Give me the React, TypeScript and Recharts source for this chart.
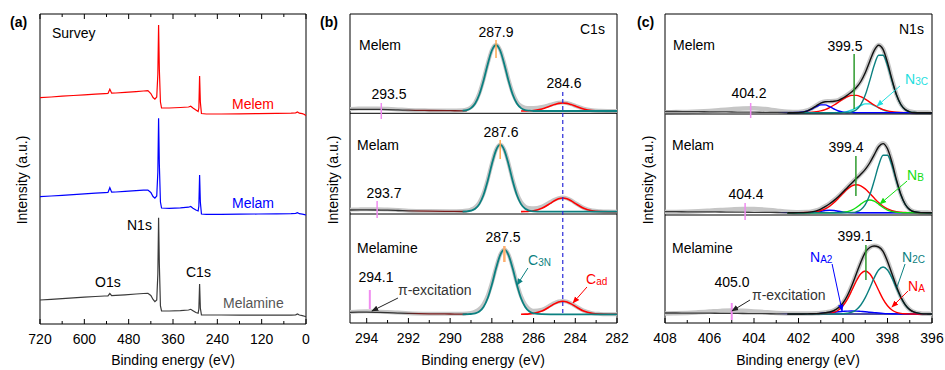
import { LineChart, Line, XAxis, YAxis, ReferenceLine, ReferenceArea } from 'recharts'

const FONT = '"Liberation Sans", Arial, Helvetica, sans-serif'
const TEAL = '#0b8080'
const RAW = '#c6c6c6'

// ---------- (a) survey ----------
const surveyEnergy = [720, 690, 660, 630, 600, 570, 545, 536, 531, 526, 515, 490, 460, 440, 428, 420, 414, 409, 404, 401, 399, 397, 394, 391, 370, 340, 318, 312, 306, 298, 292, 290, 288, 286, 283, 270, 230, 180, 130, 80, 40, 28, 23, 18, 10, 4, 0]
const surveyMelem = [226.3, 227.0, 227.8, 228.5, 229.2, 229.8, 230.4, 230.6, 234.8, 230.8, 231.0, 231.6, 232.4, 233.0, 233.4, 230.5, 226.5, 224.8, 227.0, 250.0, 299.0, 255.0, 222.0, 216.0, 216.0, 216.5, 217.0, 217.8, 216.0, 214.0, 212.5, 216.0, 248.0, 222.0, 210.5, 210.0, 210.0, 210.2, 210.4, 210.6, 210.8, 211.2, 212.0, 210.8, 210.3, 209.5, 208.3]
const surveyMelam = [127.3, 128.0, 128.7, 129.4, 130.1, 130.8, 131.4, 131.6, 136.3, 131.8, 132.0, 132.6, 133.3, 133.8, 134.0, 131.5, 127.5, 125.8, 128.0, 152.0, 205.7, 160.0, 122.0, 116.0, 115.7, 116.2, 116.8, 117.5, 115.8, 114.0, 113.0, 118.0, 149.0, 122.0, 110.0, 109.7, 109.7, 109.8, 110.0, 110.2, 110.3, 110.6, 111.3, 110.3, 109.8, 109.4, 109.0]
const surveyMelamine = [24.0, 24.7, 25.4, 26.1, 26.8, 27.5, 28.0, 28.2, 30.5, 28.4, 28.6, 29.2, 30.0, 30.5, 30.7, 28.5, 24.5, 22.3, 24.0, 50.0, 106.3, 60.0, 18.0, 13.0, 13.0, 13.4, 14.0, 14.7, 13.3, 11.5, 10.7, 15.0, 40.0, 16.0, 9.0, 9.0, 9.0, 8.9, 8.8, 8.8, 8.8, 9.2, 10.0, 9.0, 8.4, 7.8, 7.3]
const surveyTicks = [720, 660, 600, 540, 480, 420, 360, 300, 240, 180, 120, 60, 0]
const surveyLabels = [720, 600, 480, 360, 240, 120, 0]
const surveySideTicks = [18, 37, 56, 75, 94, 113, 132, 151, 170, 189, 208, 227, 246, 265, 284, 303]

// ---------- (b) C1s ----------
const c1sEnergy = [294.8, 294.4, 294, 293.5, 293, 292.5, 292, 291, 290, 289.4, 289.2, 289, 288.8, 288.6, 288.4, 288.2, 288, 287.8, 287.6, 287.4, 287.2, 287, 286.8, 286.6, 286.4, 286.2, 286, 285.6, 285.2, 285, 284.8, 284.6, 284.4, 284.2, 284, 283.6, 283.2, 282.8, 282.4, 282]
const C3N_START = 9 // 289.4 eV
const CAD_START = 23 // 286.6 eV

const c1sMelemRaw = [2.0, 2.4, 2.6, 2.6, 2.2, 1.6, 1.0, 0.6, 0.4, 0.8, 1.6, 3.8, 8.6, 17.8, 31.4, 47.4, 61.0, 66.3, 61.0, 47.5, 31.5, 18.0, 9.2, 5.0, 3.4, 3.0, 3.0, 4.0, 6.2, 7.4, 8.2, 8.4, 8.0, 6.8, 5.2, 2.3, 0.8, 0.3, 0.1, 0]
const c1sMelemBg = [1.6, 1.7, 1.7, 1.6, 1.4, 1.1, 0.8, 0.5, 0.3, 0.2, 0.1]
const c1sMelemC3N = [0.3, 0.9, 2.9, 7.5, 16.5, 30.2, 46.6, 60.5, 66, 60.5, 46.6, 30.2, 16.5, 7.5, 2.9, 0.9, 0.3, 0, 0, 0, 0, 0, 0, 0, 0, 0, 0, 0, 0, 0, 0]
const c1sMelemCad = [0.03, 0.09, 0.2, 0.5, 2.0, 4.9, 6.4, 7.6, 8, 7.6, 6.4, 4.9, 2.0, 0.5, 0.1, 0, 0]

const c1sMelamRaw = [2.0, 2.3, 2.5, 2.5, 2.1, 1.6, 1.0, 0.6, 0.5, 0.7, 1.2, 2.2, 4.4, 9.2, 18.2, 32.0, 48.2, 62.0, 67.3, 62.0, 48.5, 32.0, 18.6, 9.6, 5.2, 3.6, 3.4, 5.2, 9.6, 12.0, 13.6, 14.1, 13.4, 11.4, 8.7, 3.8, 1.2, 0.4, 0.1, 0]
const c1sMelamBg = [1.7, 1.8, 1.8, 1.7, 1.5, 1.2, 0.9, 0.5, 0.3, 0.2, 0.1]
const c1sMelamC3N = [0.1, 0.3, 1.0, 2.9, 7.6, 16.7, 30.7, 47.4, 61.4, 67, 61.4, 47.4, 30.7, 16.7, 7.6, 2.9, 1.0, 0.3, 0, 0, 0, 0, 0, 0, 0, 0, 0, 0, 0, 0, 0]
const c1sMelamCad = [0.05, 0.15, 0.4, 0.9, 3.4, 8.3, 11.0, 13.0, 13.7, 13.0, 11.0, 8.3, 3.4, 0.9, 0.15, 0, 0]

const c1sMelamineRaw = [2.4, 2.8, 3.0, 2.8, 2.3, 1.7, 1.1, 0.6, 0.5, 0.6, 0.8, 1.4, 2.8, 5.2, 10.0, 18.5, 31.4, 46.6, 59.6, 64.9, 59.8, 46.8, 31.0, 18.0, 9.6, 5.2, 3.6, 4.6, 9.0, 11.3, 12.8, 13.4, 12.7, 10.8, 8.3, 3.6, 1.2, 0.4, 0.1, 0]
const c1sMelamineBg = [2.0, 2.1, 2.1, 1.9, 1.6, 1.2, 0.9, 0.5, 0.3, 0.2, 0.1]
const c1sMelamineC3N = [0, 0.1, 0.3, 0.9, 2.8, 7.4, 16.1, 29.6, 45.7, 59.2, 64.6, 59.2, 45.7, 29.6, 16.1, 7.4, 2.8, 0.9, 0.1, 0, 0, 0, 0, 0, 0, 0, 0, 0, 0, 0, 0]
const c1sMelamineCad = [0.05, 0.15, 0.4, 0.9, 3.2, 7.9, 10.4, 12.3, 13, 12.3, 10.4, 7.9, 3.2, 0.9, 0.15, 0, 0]

const c1sTicks = [282, 283, 284, 285, 286, 287, 288, 289, 290, 291, 292, 293, 294]
const c1sLabels = [282, 284, 286, 288, 290, 292, 294]

// ---------- (c) N1s ----------
const n1sEnergy = [408, 407.5, 407, 406.5, 406, 405.5, 405, 404.5, 404, 403.5, 403, 402.5, 402, 401.6, 401.4, 401.2, 401, 400.8, 400.6, 400.4, 400.2, 400, 399.8, 399.6, 399.4, 399.2, 399, 398.8, 398.6, 398.4, 398.2, 398, 397.8, 397.6, 397.4, 397.2, 397, 396.8, 396.5, 396.2, 396]
const FIT_START = 11 // 402.5 eV

const n1sMelemRaw = [0.5, 0.6, 0.8, 1.2, 1.8, 2.6, 3.5, 4.2, 4.4, 3.6, 2.2, 1.0, 0.8, 2.2, 4.4, 7.2, 9.9, 11.2, 11.4, 11.7, 12.7, 15.0, 17.9, 21.2, 25.5, 31.5, 40.3, 51.5, 62.4, 67.8, 63.6, 50.5, 33.5, 18.5, 8.5, 3.4, 1.2, 0.5, 0.2, 0.1, 0]
const n1sMelemBg = [1.2, 1.2, 1.1, 1.0, 0.9, 0.8, 0.7, 0.6, 0.5, 0.4, 0.3, 0.2, 0.1, 0, 0, 0, 0, 0, 0, 0, 0, 0, 0, 0, 0, 0, 0, 0, 0, 0, 0, 0, 0, 0, 0, 0, 0, 0, 0, 0, 0]
const n1sMelemEnv = [0, 0.2, 1.9, 4.1, 6.9, 9.6, 10.9, 11.1, 11.4, 12.4, 14.7, 17.6, 20.9, 25.2, 31.2, 40.0, 51.2, 62.1, 67.5, 63.3, 50.2, 33.2, 18.2, 8.2, 3.1, 0.9, 0.2, 0, 0, 0]
const n1sMelemMain = [0, 0, 0, 0, 0, 0, 0, 0, 0, 0, 0.05, 0.2, 0.9, 3.0, 8.0, 17.6, 31.8, 47.2, 57.5, 57.5, 47.2, 31.8, 17.6, 8.0, 3.0, 0.9, 0.2, 0, 0, 0]
const n1sMelemRed = [0, 0.03, 0.2, 0.44, 0.9, 1.8, 3.1, 5.1, 7.7, 10.6, 13.6, 16.0, 17.3, 17.3, 16.0, 13.6, 10.6, 7.7, 5.1, 3.1, 1.8, 0.9, 0.44, 0.2, 0.08, 0.03, 0, 0, 0, 0]
const n1sMelemBlue = [0, 0.2, 1.7, 3.7, 6.0, 7.8, 7.8, 6.0, 3.7, 1.7, 0.6, 0.2, 0.04, 0, 0, 0, 0, 0, 0, 0, 0, 0, 0, 0, 0, 0, 0, 0, 0, 0]
const n1sMelemN3C = [0, 0, 0, 0, 0, 0, 0, 0, 0.03, 0.14, 0.45, 1.2, 2.7, 4.9, 7.2, 8.8, 8.8, 7.2, 4.9, 2.7, 1.2, 0.45, 0.14, 0.03, 0, 0, 0, 0, 0, 0]

const n1sMelamRaw = [0.6, 0.8, 1.0, 1.4, 2.0, 2.7, 3.3, 3.7, 3.6, 3.0, 2.0, 1.0, 0.5, 0.6, 1.2, 2.2, 4.0, 6.4, 9.2, 12.6, 16.5, 20.9, 25.6, 30.1, 34.4, 38.8, 43.6, 50.0, 58.1, 66.2, 69.4, 64.2, 50.7, 33.4, 18.5, 8.5, 3.3, 1.1, 0.3, 0.1, 0]
const n1sMelamBg = [1.0, 1.0, 0.9, 0.9, 0.8, 0.7, 0.6, 0.5, 0.4, 0.3, 0.2, 0.1, 0.05, 0, 0, 0, 0, 0, 0, 0, 0, 0, 0, 0, 0, 0, 0, 0, 0, 0, 0, 0, 0, 0, 0, 0, 0, 0, 0, 0, 0]
const n1sMelamEnv = [0, 0.05, 0.3, 0.8, 1.8, 3.6, 6.0, 8.9, 12.3, 16.2, 20.6, 25.3, 29.8, 34.1, 38.5, 43.3, 49.7, 57.8, 65.9, 69.1, 63.9, 50.4, 33.1, 18.2, 8.2, 3.1, 0.9, 0.1, 0, 0]
const n1sMelamMain = [0, 0, 0, 0, 0, 0, 0, 0, 0, 0, 0, 0.05, 0.2, 0.9, 3.0, 8.0, 17.6, 31.7, 47.2, 57.5, 57.5, 47.2, 31.7, 17.6, 8.0, 3.0, 0.9, 0.1, 0, 0]
const n1sMelamRed = [0, 0.03, 0.2, 0.5, 1.0, 2.1, 3.8, 6.4, 10.1, 14.6, 19.4, 23.8, 26.9, 28, 26.9, 23.8, 19.4, 14.6, 10.1, 6.4, 3.8, 2.1, 1.0, 0.5, 0.2, 0.1, 0.03, 0, 0, 0]
const n1sMelamNB = [0, 0, 0, 0, 0, 0, 0, 0, 0, 0.1, 0.4, 1.1, 2.6, 5.2, 8.6, 11.5, 12.7, 11.5, 8.6, 5.2, 2.6, 1.1, 0.4, 0.1, 0, 0, 0, 0, 0, 0]
const n1sMelamBlue = [0, 0, 0.1, 0.3, 0.8, 1.5, 2.2, 2.5, 2.2, 1.5, 0.8, 0.3, 0.1, 0, 0, 0, 0, 0, 0, 0, 0, 0, 0, 0, 0, 0, 0, 0, 0, 0]

const n1sMelamineRaw = [0.4, 0.7, 1.1, 1.7, 2.4, 3.1, 3.5, 3.2, 2.6, 1.8, 1.1, 0.6, 0.4, 0.4, 0.5, 0.7, 1.0, 1.5, 2.3, 3.8, 6.6, 11.2, 18.7, 28.6, 40.2, 51.6, 61.4, 66.6, 68.2, 67.2, 62.6, 52.8, 40.6, 28.0, 17.3, 9.4, 4.6, 2.0, 0.6, 0.2, 0]
const n1sMelamineBg = [1.0, 1.0, 0.9, 0.9, 0.8, 0.7, 0.6, 0.5, 0.4, 0.3, 0.2, 0.1, 0.05, 0, 0, 0, 0, 0, 0, 0, 0, 0, 0, 0, 0, 0, 0, 0, 0, 0, 0, 0, 0, 0, 0, 0, 0, 0, 0, 0, 0]
const n1sMelamineEnv = [0, 0.03, 0.13, 0.24, 0.4, 0.7, 1.2, 2.0, 3.5, 6.4, 11.0, 18.5, 28.5, 40.2, 51.8, 61.6, 66.5, 68.0, 67.0, 62.6, 52.6, 40.3, 27.7, 17.0, 9.2, 4.4, 1.8, 0.4, 0.07, 0]
const n1sMelamineN2C = [0, 0, 0, 0, 0, 0, 0, 0, 0, 0.07, 0.2, 0.7, 1.8, 4.3, 9.0, 16.3, 25.9, 36.1, 44.0, 47, 44.0, 36.1, 25.9, 16.3, 9.0, 4.3, 1.8, 0.4, 0.07, 0]
const n1sMelamineNA = [0, 0, 0, 0, 0, 0.06, 0.2, 0.6, 1.7, 4.0, 8.2, 14.9, 23.7, 33.0, 40.2, 43, 40.2, 33.0, 23.7, 14.9, 8.2, 4.0, 1.7, 0.6, 0.2, 0.06, 0, 0, 0, 0]
const n1sMelamineNA2 = [0, 0.03, 0.13, 0.24, 0.4, 0.65, 1.0, 1.4, 1.8, 2.3, 2.6, 2.9, 3, 2.9, 2.6, 2.3, 1.8, 1.4, 1.0, 0.65, 0.4, 0.24, 0.13, 0.07, 0.03, 0, 0, 0, 0, 0]

const n1sTicks = [396, 397, 398, 399, 400, 401, 402, 403, 404, 405, 406, 407, 408]
const n1sLabels = [396, 398, 400, 402, 404, 406, 408]

const stackTicks = [14, 34, 54, 74, 94, 119, 139, 159, 179, 199, 221, 241, 261, 281, 301]

type Row = Record<string, number | null>
type Series = { key: string; values: number[]; start: number; offset: number }

function buildRows(energy: number[], series: Series[]): Row[] {
  return energy.map((x, i) => {
    const row: Row = { x }
    series.forEach((s) => {
      const v = s.values[i - s.start]
      row[s.key] = v === undefined ? null : v + s.offset
    })
    return row
  })
}

const surveyRows = surveyEnergy.map((x, i) => ({
  x,
  melem: surveyMelem[i],
  melam: surveyMelam[i],
  melamine: surveyMelamine[i],
}))

const c1sSamples = [
  { id: 'melem', offset: 212, raw: c1sMelemRaw, bg: c1sMelemBg, c3n: c1sMelemC3N, cad: c1sMelemCad },
  { id: 'melam', offset: 111.3, raw: c1sMelamRaw, bg: c1sMelamBg, c3n: c1sMelamC3N, cad: c1sMelamCad },
  { id: 'melamine', offset: 8.7, raw: c1sMelamineRaw, bg: c1sMelamineBg, c3n: c1sMelamineC3N, cad: c1sMelamineCad },
]

const c1sRows = buildRows(
  c1sEnergy,
  c1sSamples.flatMap((s) => [
    { key: s.id + 'Raw', values: s.raw, start: 0, offset: s.offset },
    { key: s.id + 'Bg', values: s.bg, start: 0, offset: s.offset },
    { key: s.id + 'C3N', values: s.c3n, start: C3N_START, offset: s.offset },
    { key: s.id + 'Cad', values: s.cad, start: CAD_START, offset: s.offset },
  ]),
)

// fit components of each N1s spectrum, in drawing order
const n1sSamples = [
  {
    id: 'melem', offset: 210.3, raw: n1sMelemRaw, bg: n1sMelemBg, env: n1sMelemEnv,
    parts: [
      { name: 'n3c', values: n1sMelemN3C, color: '#22dede' },
      { name: 'red', values: n1sMelemRed, color: '#ff0000' },
      { name: 'blue', values: n1sMelemBlue, color: '#0000ff' },
      { name: 'main', values: n1sMelemMain, color: TEAL },
    ],
  },
  {
    id: 'melam', offset: 110.3, raw: n1sMelamRaw, bg: n1sMelamBg, env: n1sMelamEnv,
    parts: [
      { name: 'blue', values: n1sMelamBlue, color: '#0000ff' },
      { name: 'red', values: n1sMelamRed, color: '#ff0000' },
      { name: 'nb', values: n1sMelamNB, color: '#11dd11' },
      { name: 'main', values: n1sMelamMain, color: TEAL },
    ],
  },
  {
    id: 'melamine', offset: 9, raw: n1sMelamineRaw, bg: n1sMelamineBg, env: n1sMelamineEnv,
    parts: [
      { name: 'na2', values: n1sMelamineNA2, color: '#0000ff' },
      { name: 'na', values: n1sMelamineNA, color: '#ff0000' },
      { name: 'n2c', values: n1sMelamineN2C, color: TEAL },
    ],
  },
]

const n1sRows = buildRows(
  n1sEnergy,
  n1sSamples.flatMap((s) => [
    { key: s.id + 'Raw', values: s.raw, start: 0, offset: s.offset },
    { key: s.id + 'Bg', values: s.bg, start: 0, offset: s.offset },
    { key: s.id + 'Env', values: s.env, start: FIT_START, offset: s.offset },
    ...s.parts.map((p) => ({ key: s.id + p.name, values: p.values, start: FIT_START, offset: s.offset })),
  ]),
)

function makeXTick(labels: number[], plotH: number, top: boolean) {
  return (p: any) => {
    const v = p.payload.value
    const major = labels.includes(v)
    const len = major ? 5 : 3
    return (
      <g>
        <line x1={p.x} x2={p.x} y1={p.y} y2={p.y - len} stroke="#000" />
        {top && <line x1={p.x} x2={p.x} y1={p.y - plotH} y2={p.y - plotH + len} stroke="#000" />}
        {major && (
          <text x={p.x} y={p.y + 20} textAnchor="middle" fontSize={14} fontFamily={FONT} fill="#000">
            {v}
          </text>
        )}
      </g>
    )
  }
}

function makeYTick(plotW: number) {
  return (p: any) => (
    <g>
      <line x1={p.x} x2={p.x + 4} y1={p.y} y2={p.y} stroke="#000" />
      <line x1={p.x + plotW} x2={p.x + plotW - 4} y1={p.y} y2={p.y} stroke="#000" />
    </g>
  )
}

function Arrow({ id, color }: { id: string; color: string }) {
  return (
    <marker id={id} viewBox="0 0 10 10" refX="9" refY="5" markerWidth="7" markerHeight="7" orient="auto" markerUnits="userSpaceOnUse">
      <path d="M0,1 L10,5 L0,9 z" fill={color} />
    </marker>
  )
}

const axisProps = { tickLine: false, axisLine: false, tickSize: 0, tickMargin: 0, interval: 0 as const, allowDataOverflow: true }

function Txt({ x, y, children, anchor = 'start', color = '#000', weight = 'normal' }: any) {
  return (
    <text x={x} y={y} textAnchor={anchor} fill={color} fontWeight={weight} fontSize={14} fontFamily={FONT}>
      {children}
    </text>
  )
}

function Sub({ x, y, main, sub, color }: { x: number; y: number; main: string; sub: string; color: string }) {
  return (
    <text x={x} y={y} fill={color} fontSize={14} fontFamily={FONT}>
      {main}
      <tspan fontSize={10} dy={1}>{sub}</tspan>
    </text>
  )
}

function YLabel({ x }: { x: number }) {
  return (
    <text x={x} y={180} transform={`rotate(-90 ${x} 180)`} textAnchor="middle" dominantBaseline="central" fontSize={14} fontFamily={FONT} fill="#000">
      Intensity (a.u.)
    </text>
  )
}

export default function App() {
  return (
    <div style={{ position: 'absolute', left: 0, top: 0, width: 945, height: 370, background: '#fff' }}>
      {/* (a) survey */}
      <div style={{ position: 'absolute', left: 0, top: 0 }}>
        <LineChart width={320} height={370} data={surveyRows} margin={{ top: 14, right: 14, bottom: 16, left: 40 }}>
          <XAxis type="number" dataKey="x" domain={[0, 720]} reversed ticks={surveyTicks} height={30} tick={makeXTick(surveyLabels, 310, true)} {...axisProps} />
          <YAxis type="number" domain={[0, 310]} width={0} ticks={surveySideTicks} tick={makeYTick(266)} {...axisProps} />
          <Line type="linear" dataKey="melamine" stroke="#3a3a3a" strokeWidth={1.2} dot={false} isAnimationActive={false} />
          <Line type="linear" dataKey="melam" stroke="#0000ff" strokeWidth={1.2} dot={false} isAnimationActive={false} />
          <Line type="linear" dataKey="melem" stroke="#ff0000" strokeWidth={1.2} dot={false} isAnimationActive={false} />
          <ReferenceArea x1={0} x2={720} y1={0} y2={310} fill="none" stroke="#000" strokeWidth={1} ifOverflow="visible" />
        </LineChart>
      </div>

      {/* (b) C1s */}
      <div style={{ position: 'absolute', left: 320, top: 0 }}>
        <LineChart width={310} height={370} data={c1sRows} margin={{ top: 14, right: 13, bottom: 17, left: 30 }}>
          <defs>
            <linearGradient id="c1sBgGrad" gradientUnits="userSpaceOnUse" x1="30" y1="0" x2="147" y2="0">
              <stop offset="0" stopColor="#333" />
              <stop offset="0.45" stopColor="#333" />
              <stop offset="0.6" stopColor="#7a1a1a" />
              <stop offset="1" stopColor="#7a1a1a" />
            </linearGradient>
            <Arrow id="bArrBlack" color="#222" />
            <Arrow id="bArrTeal" color={TEAL} />
            <Arrow id="bArrRed" color="#ff0000" />
          </defs>
          <XAxis type="number" dataKey="x" domain={[282, 294.8]} reversed ticks={c1sTicks} height={30} tick={makeXTick(c1sLabels, 309, false)} {...axisProps} />
          <YAxis type="number" domain={[0, 309]} width={0} ticks={stackTicks} tick={makeYTick(267)} {...axisProps} />
          {c1sSamples.map((s) => [
            <Line key={s.id + 'Raw'} type="monotone" dataKey={s.id + 'Raw'} stroke={RAW} strokeWidth={4} dot={false} isAnimationActive={false} />,
            <Line key={s.id + 'Bg'} type="monotone" dataKey={s.id + 'Bg'} stroke="url(#c1sBgGrad)" strokeWidth={1.3} dot={false} isAnimationActive={false} />,
            <Line key={s.id + 'Cad'} type="monotone" dataKey={s.id + 'Cad'} stroke="#ff0000" strokeWidth={1.6} dot={false} isAnimationActive={false} />,
            <Line key={s.id + 'C3N'} type="monotone" dataKey={s.id + 'C3N'} stroke={TEAL} strokeWidth={1.8} dot={false} isAnimationActive={false} />,
          ])}
          <ReferenceLine y={209.7} stroke="#000" strokeWidth={1} />
          <ReferenceLine y={109} stroke="#000" strokeWidth={1} />
          <ReferenceLine segment={[{ x: 284.6, y: 231 }, { x: 284.6, y: 10 }]} stroke="#2a2ad8" strokeWidth={1.2} strokeDasharray="4 3" />
          <ReferenceLine segment={[{ x: 287.8, y: 283 }, { x: 287.8, y: 265 }]} stroke="#ffa64d" strokeWidth={1.5} />
          <ReferenceLine segment={[{ x: 287.6, y: 183 }, { x: 287.6, y: 164 }]} stroke="#ffa64d" strokeWidth={1.5} />
          <ReferenceLine segment={[{ x: 287.4, y: 77 }, { x: 287.4, y: 61 }]} stroke="#ffb070" strokeWidth={2.5} />
          <ReferenceLine segment={[{ x: 293.3, y: 220 }, { x: 293.3, y: 204 }]} stroke="#f08cf0" strokeWidth={1.5} />
          <ReferenceLine segment={[{ x: 293.5, y: 122 }, { x: 293.5, y: 105 }]} stroke="#f08cf0" strokeWidth={1.5} />
          <ReferenceLine segment={[{ x: 293.85, y: 33 }, { x: 293.85, y: 14 }]} stroke="#f08cf0" strokeWidth={2} />
          <ReferenceLine segment={[{ x: 292.5, y: 25 }, { x: 293.75, y: 12 }]} stroke="#222" strokeWidth={1} markerEnd="url(#bArrBlack)" />
          <ReferenceLine segment={[{ x: 286.27, y: 55 }, { x: 286.79, y: 38 }]} stroke={TEAL} strokeWidth={1} markerEnd="url(#bArrTeal)" />
          <ReferenceLine segment={[{ x: 283.44, y: 36 }, { x: 284.11, y: 20 }]} stroke="#ff0000" strokeWidth={1} markerEnd="url(#bArrRed)" />
          <ReferenceArea x1={282} x2={294.8} y1={0} y2={309} fill="none" stroke="#000" strokeWidth={1} ifOverflow="visible" />
        </LineChart>
      </div>

      {/* (c) N1s */}
      <div style={{ position: 'absolute', left: 630, top: 0 }}>
        <LineChart width={315} height={370} data={n1sRows} margin={{ top: 14, right: 13, bottom: 17, left: 35 }}>
          <defs>
            <linearGradient id="n1sBgGrad" gradientUnits="userSpaceOnUse" x1="35" y1="0" x2="302" y2="0">
              <stop offset="0" stopColor="#3a3a3a" />
              <stop offset="0.42" stopColor="#3a3a3a" />
              <stop offset="0.48" stopColor="#1a1a80" />
              <stop offset="1" stopColor="#1a1a80" />
            </linearGradient>
            <Arrow id="cArrBlack" color="#222" />
            <Arrow id="cArrCyan" color="#22dede" />
            <Arrow id="cArrGreen" color="#11dd11" />
            <Arrow id="cArrRed" color="#ff0000" />
            <Arrow id="cArrBlue" color="#0000ff" />
          </defs>
          <XAxis type="number" dataKey="x" domain={[396, 408]} reversed ticks={n1sTicks} height={30} tick={makeXTick(n1sLabels, 309, false)} {...axisProps} />
          <YAxis type="number" domain={[0, 309]} width={0} ticks={stackTicks} tick={makeYTick(267)} {...axisProps} />
          {n1sSamples.map((s) => [
            <Line key={s.id + 'Raw'} type="monotone" dataKey={s.id + 'Raw'} stroke={RAW} strokeWidth={4.5} dot={false} isAnimationActive={false} />,
            <Line key={s.id + 'Bg'} type="monotone" dataKey={s.id + 'Bg'} stroke="url(#n1sBgGrad)" strokeWidth={1.3} dot={false} isAnimationActive={false} />,
            ...s.parts.map((p) => (
              <Line key={s.id + p.name} type="monotone" dataKey={s.id + p.name} stroke={p.color} strokeWidth={1.4} dot={false} isAnimationActive={false} />
            )),
            <Line key={s.id + 'Env'} type="monotone" dataKey={s.id + 'Env'} stroke="#111" strokeWidth={1.4} dot={false} isAnimationActive={false} />,
          ])}
          <ReferenceLine y={209} stroke="#000" strokeWidth={1} />
          <ReferenceLine y={108} stroke="#000" strokeWidth={1} />
          <ReferenceLine segment={[{ x: 399.5, y: 269 }, { x: 399.5, y: 214 }]} stroke="#2e9b2e" strokeWidth={1.5} />
          <ReferenceLine segment={[{ x: 399.42, y: 167 }, { x: 399.42, y: 127 }]} stroke="#2e9b2e" strokeWidth={1.5} />
          <ReferenceLine segment={[{ x: 398.97, y: 78 }, { x: 398.97, y: 43 }]} stroke="#2e9b2e" strokeWidth={1.5} />
          <ReferenceLine segment={[{ x: 404.15, y: 220 }, { x: 404.15, y: 205 }]} stroke="#f08cf0" strokeWidth={1.5} />
          <ReferenceLine segment={[{ x: 404.4, y: 120 }, { x: 404.4, y: 103 }]} stroke="#f08cf0" strokeWidth={1.5} />
          <ReferenceLine segment={[{ x: 405.0, y: 20 }, { x: 405.0, y: 3 }]} stroke="#f08cf0" strokeWidth={2} />
          <ReferenceLine segment={[{ x: 397.44, y: 237 }, { x: 398.47, y: 217 }]} stroke="#22dede" strokeWidth={1} markerEnd="url(#cArrCyan)" />
          <ReferenceLine segment={[{ x: 397.12, y: 142 }, { x: 398.34, y: 119 }]} stroke="#11dd11" strokeWidth={1} markerEnd="url(#cArrGreen)" />
          <ReferenceLine segment={[{ x: 397.21, y: 59 }, { x: 397.57, y: 36 }]} stroke={TEAL} strokeWidth={1} />
          <ReferenceLine segment={[{ x: 397.08, y: 32 }, { x: 397.8, y: 16 }]} stroke="#ff0000" strokeWidth={1} markerEnd="url(#cArrRed)" />
          <ReferenceLine segment={[{ x: 400.49, y: 59 }, { x: 400.04, y: 12 }]} stroke="#0000ff" strokeWidth={1} markerEnd="url(#cArrBlue)" />
          <ReferenceLine segment={[{ x: 404.18, y: 23 }, { x: 404.99, y: 12 }]} stroke="#222" strokeWidth={1} markerEnd="url(#cArrBlack)" />
          <ReferenceArea x1={396} x2={408} y1={0} y2={309} fill="none" stroke="#000" strokeWidth={1} ifOverflow="visible" />
        </LineChart>
      </div>

      {/* text annotations */}
      <svg width={945} height={370} style={{ position: 'absolute', left: 0, top: 0, pointerEvents: 'none' }}>
        {/* (a) */}
        <Txt x={10} y={27} weight="bold">(a)</Txt>
        <Txt x={52} y={38}>Survey</Txt>
        <Txt x={232} y={109} color="#ff0000">Melem</Txt>
        <Txt x={232} y={208} color="#0000ff">Melam</Txt>
        <Txt x={127} y={230}>N1s</Txt>
        <Txt x={186} y={277}>C1s</Txt>
        <Txt x={95} y={287}>O1s</Txt>
        <Txt x={223} y={308} color="#555">Melamine</Txt>
        <Txt x={173} y={365} anchor="middle">Binding energy (eV)</Txt>
        <YLabel x={22} />

        {/* (b) */}
        <Txt x={320} y={27} weight="bold">(b)</Txt>
        <Txt x={580} y={34}>C1s</Txt>
        <Txt x={359} y={50}>Melem</Txt>
        <Txt x={496} y={37} anchor="middle">287.9</Txt>
        <Txt x={564} y={88} anchor="middle">284.6</Txt>
        <Txt x={389} y={99} anchor="middle">293.5</Txt>
        <Txt x={357} y={150}>Melam</Txt>
        <Txt x={501} y={137} anchor="middle">287.6</Txt>
        <Txt x={384} y={198} anchor="middle">293.7</Txt>
        <Txt x={357} y={253}>Melamine</Txt>
        <Txt x={503} y={242} anchor="middle">287.5</Txt>
        <Txt x={376} y={282} anchor="middle">294.1</Txt>
        <Txt x={398} y={295} color="#333">π-excitation</Txt>
        <Sub x={528} y={265} main="C" sub="3N" color={TEAL} />
        <Sub x={586} y={284} main="C" sub="ad" color="#ff0000" />
        <Txt x={483} y={365} anchor="middle">Binding energy (eV)</Txt>
        <YLabel x={333} />

        {/* (c) */}
        <Txt x={637} y={27} weight="bold">(c)</Txt>
        <Txt x={899} y={34}>N1s</Txt>
        <Txt x={673} y={50}>Melem</Txt>
        <Txt x={845} y={51} anchor="middle">399.5</Txt>
        <Txt x={749} y={98} anchor="middle">404.2</Txt>
        <Sub x={905} y={84} main="N" sub="3C" color="#22dede" />
        <Txt x={672} y={150}>Melam</Txt>
        <Txt x={846} y={152} anchor="middle">399.4</Txt>
        <Txt x={746} y={199} anchor="middle">404.4</Txt>
        <Sub x={907} y={180} main="N" sub="B" color="#11dd11" />
        <Txt x={672} y={253}>Melamine</Txt>
        <Txt x={855} y={241} anchor="middle">399.1</Txt>
        <Sub x={810} y={262} main="N" sub="A2" color="#0000ff" />
        <Sub x={902} y={262} main="N" sub="2C" color={TEAL} />
        <Sub x={908} y={291} main="N" sub="A" color="#ff0000" />
        <Txt x={732} y={287} anchor="middle">405.0</Txt>
        <Txt x={752} y={300} color="#333">π-excitation</Txt>
        <Txt x={798} y={365} anchor="middle">Binding energy (eV)</Txt>
        <YLabel x={648} />
      </svg>
    </div>
  )
}
